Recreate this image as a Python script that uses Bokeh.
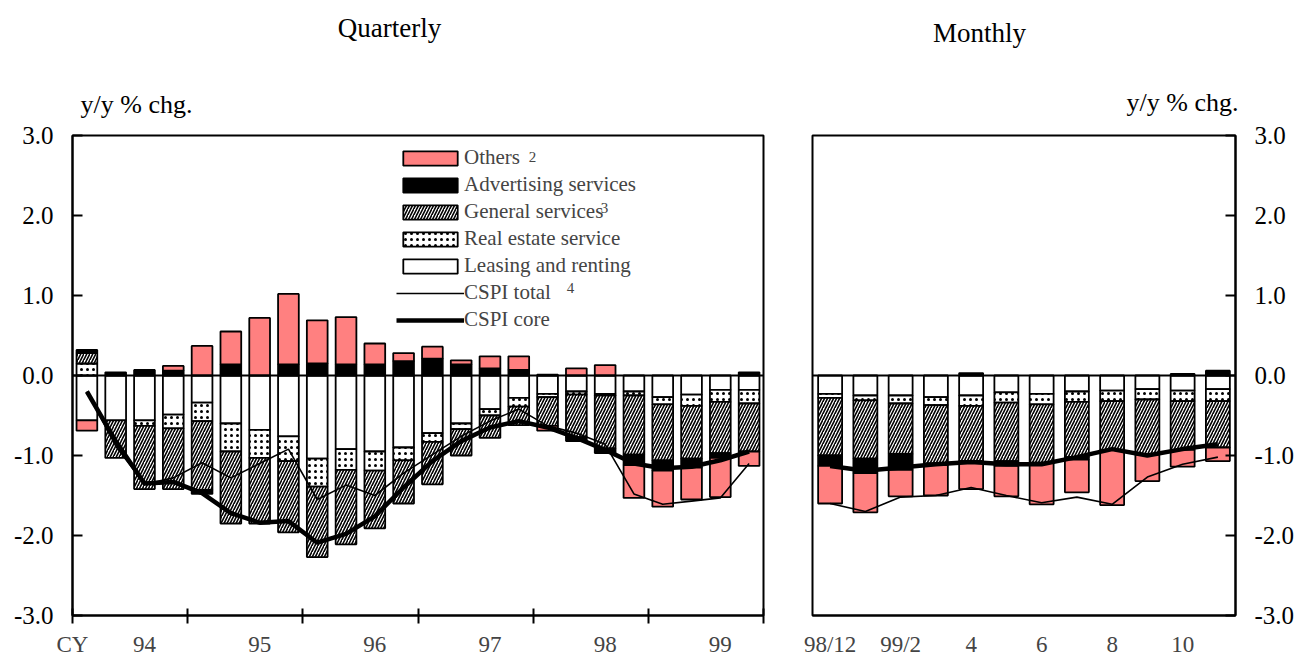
import numpy as np
from bokeh.plotting import figure
from bokeh.layouts import row, column
from bokeh.models import (Range1d, FixedTicker, PrintfTickFormatter, Label,
                          Legend, LegendItem, Span)
from bokeh.embed import file_html
from bokeh.resources import INLINE

FONT = "Liberation Serif"

# ---------------- data: quarterly (1994Q1 - 1999Q4) ----------------
quarters = ["94Q1", "94Q2", "94Q3", "94Q4", "95Q1", "95Q2", "95Q3", "95Q4",
            "96Q1", "96Q2", "96Q3", "96Q4", "97Q1", "97Q2", "97Q3", "97Q4",
            "98Q1", "98Q2", "98Q3", "98Q4", "99Q1", "99Q2", "99Q3", "99Q4"]
year_labels = ["CY", "94", "95", "96", "97", "98", "99"]

q_leasing = [-0.56, -0.56, -0.56, -0.49, -0.34, -0.60, -0.68, -0.76,
             -1.04, -0.92, -0.95, -0.90, -0.72, -0.60, -0.42, -0.28,
             -0.23, -0.20, -0.23, -0.20, -0.27, -0.24, -0.18, -0.18]
q_real_estate = [0.15, 0.00, -0.07, -0.17, -0.23, -0.35, -0.35, -0.31,
                 -0.35, -0.26, -0.24, -0.16, -0.11, -0.07, -0.08, -0.11,
                 -0.04, -0.04, -0.02, -0.05, -0.09, -0.14, -0.15, -0.17]
q_general = [0.13, -0.47, -0.79, -0.76, -0.86, -0.90, -0.82, -0.89,
             -0.88, -0.93, -0.72, -0.54, -0.53, -0.33, -0.28, -0.23,
             -0.36, -0.53, -0.66, -0.74, -0.70, -0.66, -0.64, -0.60]
q_advertising = [0.04, 0.04, 0.07, 0.06, -0.05, 0.14, 0.00, 0.14,
                 0.15, 0.14, 0.14, 0.18, 0.21, 0.14, 0.09, 0.07,
                 0.01, -0.05, -0.06, -0.13, -0.13, -0.11, -0.06, 0.04]
q_others = [-0.13, 0.00, 0.00, 0.06, 0.37, 0.41, 0.72, 0.88,
            0.54, 0.59, 0.26, 0.10, 0.15, 0.05, 0.15, 0.17,
            -0.06, 0.09, 0.13, -0.41, -0.45, -0.40, -0.49, -0.18]
q_cspi_total = [-0.20, -0.88, -1.36, -1.28, -1.09, -1.28, -1.10, -0.92,
                -1.55, -1.37, -1.50, -1.22, -0.99, -0.76, -0.57, -0.42,
                -0.63, -0.72, -0.86, -1.48, -1.61, -1.57, -1.53, -1.10]
q_cspi_core = [-0.20, -0.82, -1.35, -1.33, -1.47, -1.72, -1.84, -1.82,
               -2.09, -1.98, -1.76, -1.40, -1.07, -0.82, -0.65, -0.57,
               -0.65, -0.78, -0.93, -1.10, -1.16, -1.14, -1.06, -0.95]

# ---------------- data: monthly (1998/12 - 1999/11) ----------------
months = ["98/12", "99/1", "99/2", "99/3", "99/4", "99/5",
          "99/6", "99/7", "99/8", "99/9", "99/10", "99/11"]
month_tick_labels = ["98/12", "99/2", "4", "6", "8", "10"]

m_leasing = [-0.23, -0.25, -0.25, -0.27, -0.25, -0.21,
             -0.23, -0.20, -0.19, -0.17, -0.19, -0.17]
m_real_estate = [-0.05, -0.06, -0.10, -0.10, -0.13, -0.13,
                 -0.13, -0.13, -0.13, -0.13, -0.13, -0.15]
m_general = [-0.72, -0.73, -0.63, -0.73, -0.69, -0.73,
             -0.73, -0.69, -0.61, -0.69, -0.61, -0.58]
m_advertising = [-0.13, -0.18, -0.20, -0.02, 0.03, -0.06,
                 0.00, -0.03, 0.00, 0.00, 0.02, 0.06]
m_others = [-0.47, -0.49, -0.33, -0.38, -0.35, -0.38,
            -0.52, -0.41, -0.69, -0.33, -0.21, -0.17]
m_cspi_total = [-1.60, -1.70, -1.52, -1.50, -1.40, -1.50,
                -1.59, -1.52, -1.61, -1.27, -1.11, -1.02]
m_cspi_core = [-1.13, -1.19, -1.15, -1.11, -1.08, -1.11,
               -1.11, -1.02, -0.92, -1.00, -0.92, -0.86]

y_ticks = [-3, -2, -1, 0, 1, 2, 3]

# ---------------- styles ----------------
STYLES = [
    dict(name="Leasing and renting", fill_color="white"),
    dict(name="Real estate service", fill_color="white", hatch_pattern=".",
         hatch_color="black", hatch_scale=6, hatch_weight=2.5),
    dict(name="General services", fill_color="white", hatch_pattern="/",
         hatch_color="black", hatch_scale=6, hatch_weight=1.6),
    dict(name="Advertising services", fill_color="black"),
    dict(name="Others", fill_color="#ff8080"),
]


def stack(series_list):
    n = len(series_list[0])
    pos = np.zeros(n)
    neg = np.zeros(n)
    out = []
    for s in series_list:
        s = np.asarray(s, dtype=float)
        is_pos = s >= 0
        bottom = np.where(is_pos, pos, neg)
        top = bottom + s
        pos = np.where(is_pos, top, pos)
        neg = np.where(is_pos, neg, top)
        empty = s == 0
        out.append((np.where(empty, np.nan, bottom), np.where(empty, np.nan, top)))
    return out


def style_axes(p):
    p.outline_line_color = "black"
    p.outline_line_width = 2
    p.xgrid.visible = False
    p.ygrid.visible = False
    p.background_fill_color = "white"
    p.border_fill_color = "white"


def draw(p, series_list, total, core, width):
    n = len(total)
    xs = np.arange(n) + 0.5
    renderers = []
    for (bottom, top), st in zip(stack(series_list), STYLES):
        kw = {k: v for k, v in st.items() if k != "name"}
        r = p.vbar(x=xs, bottom=bottom, top=top, width=width,
                   line_color="black", line_width=1.8, **kw)
        renderers.append(r)
    p.add_layout(Span(location=0, dimension="width", line_color="black",
                      line_width=2))
    r_tot = p.line(xs, total, line_color="black", line_width=1.6)
    r_core = p.line(xs, core, line_color="black", line_width=4.5)
    return renderers, r_tot, r_core


def y_axis_style(ax):
    ax.ticker = FixedTicker(ticks=y_ticks, minor_ticks=[])
    ax.formatter = PrintfTickFormatter(format="%.1f")
    ax.major_tick_in = 10
    ax.major_tick_out = 0
    ax.major_tick_line_width = 2
    ax.axis_line_width = 2
    ax.major_label_standoff = 19
    ax.major_label_text_font = FONT
    ax.major_label_text_font_size = "25px"
    ax.major_label_text_color = "black"


def header_text(p, text, x, y, align, size):
    p.add_layout(Label(x=x, y=y, text=text, text_align=align,
                       text_baseline="middle", text_font=FONT,
                       text_font_size=size, text_color="black"))


HEADER_H = 120

# ---------------- header (titles and unit captions) ----------------
header = figure(width=1299, height=HEADER_H, x_range=Range1d(0, 1299),
                y_range=Range1d(HEADER_H, 0), x_axis_location=None,
                y_axis_location=None, title_location=None,
                min_border=0, output_backend="svg",
                toolbar_location=None, tools="")
header.outline_line_color = None
header.xgrid.visible = False
header.ygrid.visible = False
header_text(header, "Quarterly", 389, 27, "center", "27px")
header_text(header, "y/y % chg.", 80, 104, "left", "26px")
header_text(header, "Monthly", 979, 32, "center", "27px")
header_text(header, "y/y % chg.", 1238, 102, "right", "26px")

# ---------------- left: quarterly ----------------
p1 = figure(x_range=Range1d(0, 24), y_range=Range1d(-3, 3),
            frame_width=691, frame_height=480, title_location=None,
            min_border_left=72, min_border_right=24,
            min_border_top=135 - HEADER_H, min_border_bottom=45,
            output_backend="svg", toolbar_location=None, tools="")
style_axes(p1)
bars1, tot1, core1 = draw(p1, [q_leasing, q_real_estate, q_general,
                                q_advertising, q_others],
                          q_cspi_total, q_cspi_core, 0.72)

y_axis_style(p1.yaxis[0])
xa = p1.xaxis[0]
year_pos = [0] + [4 * k + 2.5 for k in range(6)]
xa.ticker = FixedTicker(ticks=year_pos, minor_ticks=list(range(0, 25, 4)))
xa.major_label_overrides = {pos: lab for pos, lab in zip(year_pos, year_labels)}
xa.major_tick_in = 0
xa.major_tick_out = 0
xa.major_tick_line_alpha = 0
xa.minor_tick_in = 7
xa.minor_tick_out = 8
xa.minor_tick_line_width = 2
xa.minor_tick_line_color = "black"
xa.axis_line_width = 2
xa.major_label_standoff = 8
xa.major_label_text_font = FONT
xa.major_label_text_font_size = "23px"

legend_items = [
    LegendItem(label="Others", renderers=[bars1[4]]),
    LegendItem(label="Advertising services", renderers=[bars1[3]]),
    LegendItem(label="General services", renderers=[bars1[2]]),
    LegendItem(label="Real estate service", renderers=[bars1[1]]),
    LegendItem(label="Leasing and renting", renderers=[bars1[0]]),
    LegendItem(label="CSPI total", renderers=[tot1]),
    LegendItem(label="CSPI core", renderers=[core1]),
]
legend = Legend(items=legend_items, location=(324, 283),
                glyph_width=68, glyph_height=18, label_height=23,
                spacing=2, padding=0, margin=0, label_standoff=0,
                label_text_font=FONT, label_text_font_size="21px",
                border_line_alpha=0, background_fill_alpha=0)
p1.add_layout(legend)
for txt, lx, ly in [("2", 15.98, 2.73), ("3", 18.48, 2.09), ("4", 17.3, 1.09)]:
    p1.add_layout(Label(x=lx, y=ly, text=txt, text_align="center",
                        text_baseline="middle", text_font=FONT,
                        text_font_size="15px"))

# ---------------- right: monthly ----------------
p2 = figure(x_range=Range1d(0, 12), y_range=Range1d(-3, 3),
            frame_width=423, frame_height=480, y_axis_location="right",
            title_location=None,
            min_border_left=25, min_border_right=64,
            min_border_top=135 - HEADER_H, min_border_bottom=45,
            output_backend="svg", toolbar_location=None, tools="")
style_axes(p2)
draw(p2, [m_leasing, m_real_estate, m_general, m_advertising, m_others],
     m_cspi_total, m_cspi_core, 0.68)
y_axis_style(p2.yaxis[0])
xb = p2.xaxis[0]
month_pos = [0.5, 2.5, 4.5, 6.5, 8.5, 10.5]
xb.ticker = FixedTicker(ticks=month_pos, minor_ticks=[])
xb.major_label_overrides = {pos: lab for pos, lab in zip(month_pos, month_tick_labels)}
xb.major_tick_in = 0
xb.major_tick_out = 0
xb.major_tick_line_alpha = 0
xb.axis_line_width = 2
xb.major_label_standoff = 16
xb.major_label_text_font = FONT
xb.major_label_text_font_size = "23px"

layout = column(header, row(p1, p2))
open("out.html", "w").write(file_html(layout, INLINE))
